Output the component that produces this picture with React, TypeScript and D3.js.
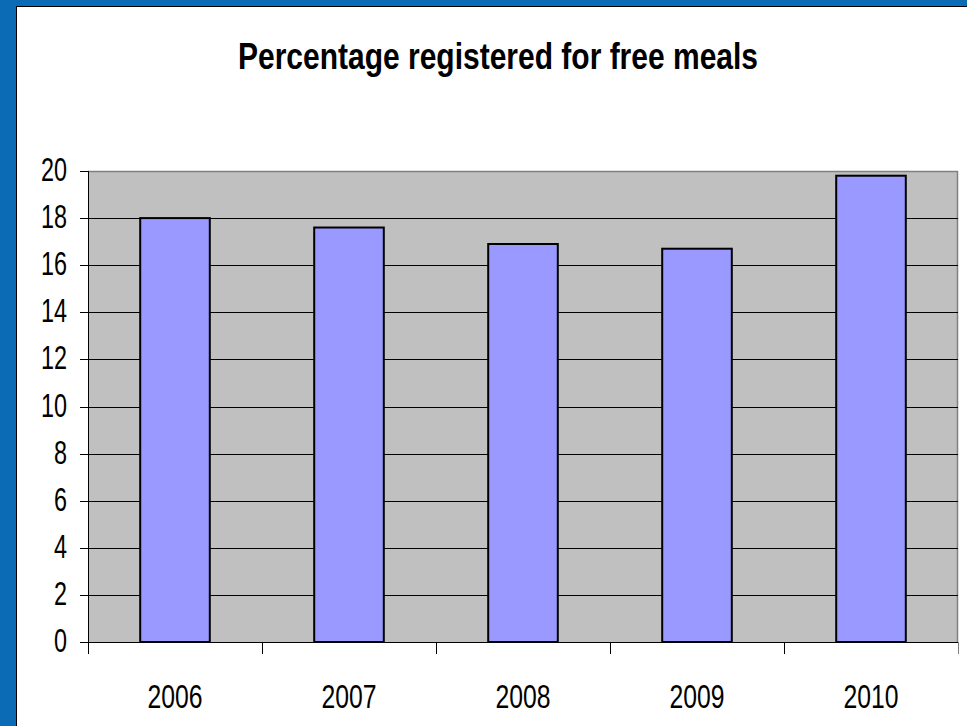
import React from "react";
import * as d3 from "d3";

const years = ["2006", "2007", "2008", "2009", "2010"];
const values = [18.0, 17.6, 16.9, 16.7, 19.8];
const yTicks = [0, 2, 4, 6, 8, 10, 12, 14, 16, 18, 20];
const title = "Percentage registered for free meals";

export default function App() {
  const W = 967, H = 726;
  const left = 88, right = 958, top = 171, bottom = 642;
  const x = d3.scaleBand<string>().domain(years).range([left, right]).paddingInner(0.6).paddingOuter(0.3);
  const y = d3.scaleLinear().domain([0, 20]).range([bottom, top]);
  const step = (right - left) / years.length;
  const font = "'Liberation Sans', Arial, sans-serif";
  return (
    <svg width={W} height={H} style={{ position: "absolute", left: 0, top: 0, background: "#fff" }}>
      <rect x={0} y={0} width={W} height={6} fill="#0b6bb5" />
      <rect x={0} y={0} width={16} height={H} fill="#0b6bb5" />
      <line x1={16.5} y1={6} x2={16.5} y2={H} stroke="#000" strokeWidth={1} />
      <line x1={16} y1={6.5} x2={W} y2={6.5} stroke="#000" strokeWidth={1} />
      <text x={238} y={69} fontFamily={font} fontWeight="bold" fontSize={37} textLength={520} lengthAdjust="spacingAndGlyphs" fill="#000">{title}</text>
      <rect x={left} y={top} width={right - left} height={bottom - top} fill="#c0c0c0" />
      <line x1={left} y1={top + 0.5} x2={right} y2={top + 0.5} stroke="#808080" strokeWidth={1.5} />
      <line x1={right - 0.5} y1={top} x2={right - 0.5} y2={bottom} stroke="#808080" strokeWidth={1.5} />
      {yTicks.filter(t => t > 0 && t < 20).map(t => (
        <line key={"g" + t} x1={left} x2={right} y1={Math.round(y(t)) + 0.5} y2={Math.round(y(t)) + 0.5} stroke="#000" strokeWidth={1} />
      ))}
      {years.map((yr, i) => (
        <rect key={yr} x={x(yr)} y={y(values[i])} width={x.bandwidth()} height={bottom - y(values[i])} fill="#9999ff" stroke="#000" strokeWidth={2} />
      ))}
      <line x1={left + 0.5} y1={top} x2={left + 0.5} y2={bottom} stroke="#000" strokeWidth={1} />
      <line x1={left} y1={bottom + 0.5} x2={right} y2={bottom + 0.5} stroke="#000" strokeWidth={1} />
      {yTicks.map(t => (
        <g key={"y" + t}>
          <line x1={80} x2={left} y1={Math.round(y(t)) + 0.5} y2={Math.round(y(t)) + 0.5} stroke="#000" strokeWidth={1} />
          <text x={67} y={y(t) + 10} textAnchor="end" fontFamily={font} fontSize={34} textLength={13 * String(t).length} lengthAdjust="spacingAndGlyphs" fill="#000">{t}</text>
        </g>
      ))}
      {d3.range(years.length + 1).map(i => (
        <line key={"xt" + i} x1={Math.round(left + i * step) + 0.5} x2={Math.round(left + i * step) + 0.5} y1={bottom} y2={654} stroke={i === years.length ? "#808080" : "#000"} strokeWidth={1} />
      ))}
      {years.map(yr => (
        <text key={"xl" + yr} x={(x(yr) as number) + x.bandwidth() / 2} y={708} textAnchor="middle" fontFamily={font} fontSize={34} textLength={55} lengthAdjust="spacingAndGlyphs" fill="#000">{yr}</text>
      ))}
    </svg>
  );
}
